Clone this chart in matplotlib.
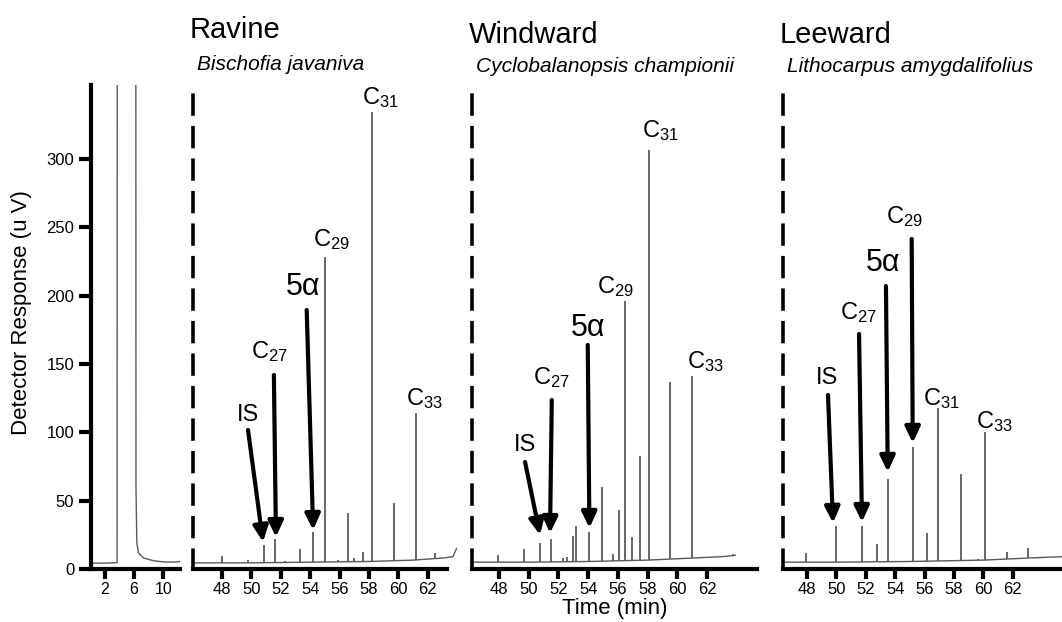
import matplotlib
matplotlib.use("Agg")
import matplotlib.pyplot as plt
import numpy as np

plt.rcParams['font.family'] = ['Liberation Sans', 'DejaVu Sans']
plt.rcParams['mathtext.fontset'] = 'custom'
plt.rcParams['mathtext.rm'] = 'Liberation Sans'
plt.rcParams['mathtext.it'] = 'Liberation Sans:italic'

# solvent panel trace (1000 = detector saturated, off scale)
solvent_t = [0.3, 2.0, 3.0, 3.65, 3.72, 6.2, 6.25, 6.37, 6.6, 7.3, 8.7, 10.0, 11.4, 12.3]
solvent_y = [4.3, 4.3, 4.5, 4.6, 1000, 1000, 60, 19, 11.7, 8, 6, 5.2, 5, 5.5]

# Ravine - Bischofia javaniva
rav_base_t = [46.0, 50, 54, 58, 61, 63, 63.7, 63.95]
rav_base_y = [4.5, 4.5, 5, 5.5, 6.5, 8, 9, 15]
rav_t = [47.97, 49.8, 50.83, 51.62, 52.3, 53.32, 54.2, 55.0, 55.9, 56.58, 57.0, 57.6, 58.2, 59.67, 61.16, 62.5]
rav_h = [9.5, 6.5, 17.6, 22, 6, 14.5, 27, 228, 6.5, 41, 8, 12.5, 334, 48, 114, 12]

# Windward - Cyclobalanopsis championii
win_base_t = [46.3, 50, 54, 58, 61, 63, 63.9]
win_base_y = [5, 5, 5.5, 6.5, 8, 9, 10]
win_t = [47.9, 49.7, 50.76, 51.48, 52.3, 52.6, 53.0, 53.18, 54.06, 54.9, 55.7, 56.07,
         56.46, 56.95, 57.5, 58.1, 59.5, 60.97, 62.5, 63.75]
win_h = [10, 14.6, 19, 21.7, 8, 9, 24, 31.5, 27, 60, 11, 43,
         196, 23.6, 83, 306.5, 137, 141, 9, 11]

# Leeward - Lithocarpus amygdalifolius
lee_base_t = [46.5, 50, 55, 60, 63, 65.3]
lee_base_y = [5, 5, 5.5, 6.5, 8, 9]
lee_t = [47.95, 49.95, 51.72, 52.78, 53.53, 55.23, 56.14, 56.93, 58.5, 59.6, 60.1, 61.58, 63.04]
lee_h = [12, 31.5, 31.5, 18, 65.6, 89.5, 26.6, 117.5, 69.5, 7, 100.4, 12.7, 15]

sites = ['Ravine', 'Windward', 'Leeward']
species = ['Bischofia javaniva', 'Cyclobalanopsis championii', 'Lithocarpus amygdalifolius']
yticks = [0, 50, 100, 150, 200, 250, 300]
solvent_xticks = [2, 6, 10]
chrom_xticks = [48, 50, 52, 54, 56, 58, 60, 62]

# annotations: label, label position (t, v), arrow start, arrow tip (None = no arrow)
rav_notes = [
    ('IS', (49.77, 112.7), (49.77, 101.7), (50.79, 19.8)),
    ('C$_{27}$', (51.26, 158.7), (51.53, 141.9), (51.67, 23.4)),
    ('5α', (53.5, 206.3), (53.76, 189.5), (54.2, 28.5)),
    ('C$_{29}$', (55.46, 240.7), None, None),
    ('C$_{31}$', (58.74, 344.5), None, None),
    ('C$_{33}$', (61.8, 125), None, None),
]
win_notes = [
    ('IS', (49.75, 90.7), (49.75, 78.3), (50.76, 24.9)),
    ('C$_{27}$', (51.55, 139.7), (51.55, 123.6), (51.43, 26.3)),
    ('5α', (53.99, 176.3), (53.97, 163.9), (54.08, 30)),
    ('C$_{29}$', (55.81, 206.3), None, None),
    ('C$_{31}$', (58.83, 321), None, None),
    ('C$_{33}$', (61.86, 151.4), None, None),
]
lee_notes = [
    ('IS', (49.36, 139.7), (49.43, 127.3), (49.77, 33.7)),
    ('C$_{27}$', (51.47, 187.3), (51.54, 171.9), (51.74, 34.4)),
    ('5α', (53.17, 223.8), (53.37, 207), (53.49, 71)),
    ('C$_{29}$', (54.66, 257.5), (55.12, 241.4), (55.19, 92.2)),
    ('C$_{31}$', (57.16, 125), None, None),
    ('C$_{33}$', (60.78, 107.5), None, None),
]

W, H = 1062, 622
fig = plt.figure(figsize=(W / 100, H / 100), dpi=100)

def px_axes(x0, x1, y0=85, y1=569):
    return fig.add_axes([x0 / W, 1 - y1 / H, (x1 - x0) / W, (y1 - y0) / H])

ymax = 354
trace_col = '#5a5a5a'

# solvent panel
ax0 = px_axes(91, 180)
ax0.plot(solvent_t, solvent_y, color=trace_col, lw=1.0)
ax0.set_xlim(0.07, 12.3)
ax0.set_ylim(0, ymax)
ax0.spines[['top', 'right']].set_visible(False)
for s in ['left', 'bottom']:
    ax0.spines[s].set_linewidth(3)
ax0.set_yticks(yticks)
ax0.set_xticks(solvent_xticks)
ax0.tick_params(axis='y', length=9, width=3, labelsize=12, pad=3)
ax0.tick_params(axis='x', length=7, width=3, labelsize=11.5, pad=2)
ax0.set_ylabel('Detector Response (u V)', fontsize=16)
ax0.yaxis.set_label_coords(-0.66, 0.53)

panels = [
    (193, 457, (46.03, 63.98), (46.03, 63.3), rav_base_t, rav_base_y, rav_t, rav_h, rav_notes),
    (472, 757, (46.18, 65.36), (46.18, 65.36), win_base_t, win_base_y, win_t, win_h, win_notes),
    (783, 1062, (46.37, 65.34), (46.37, 65.34), lee_base_t, lee_base_y, lee_t, lee_h, lee_notes),
]

title_y = [38, 43, 43]
species_y = [70, 72, 72]

for i, (x0, x1, xl, xb, bt, by, pt, ph, notes) in enumerate(panels):
    ax = px_axes(x0, x1)
    ax.plot(bt, by, color=trace_col, lw=1.0)
    foot = np.interp(pt, bt, by)
    ax.vlines(pt, foot, ph, color=trace_col, lw=1.3)
    ax.set_xlim(*xl)
    ax.set_ylim(0, ymax)
    ax.spines[['top', 'right']].set_visible(False)
    ax.spines['bottom'].set_linewidth(3)
    ax.spines['bottom'].set_bounds(*xb)
    ax.spines['left'].set_linewidth(2.6)
    ax.spines['left'].set_linestyle((0, (5.2, 3.8)))
    ax.set_yticks([])
    ax.set_xticks(chrom_xticks)
    ax.tick_params(axis='x', length=7, width=3, labelsize=12, pad=2)
    for lab, pos, start, tip in notes:
        fs = 22 if lab == '5α' else 17
        ax.text(pos[0], pos[1], lab, fontsize=fs, ha='center', va='center')
        if tip is not None:
            ax.annotate('', xy=tip, xytext=start,
                        arrowprops=dict(arrowstyle='-|>,head_width=0.45,head_length=0.95',
                                        color='black', lw=3, mutation_scale=10,
                                        shrinkA=0, shrinkB=0))
    fig.text((x0 - 3) / W, 1 - title_y[i] / H, sites[i], fontsize=21, va='baseline')
    fig.text((x0 + 4) / W, 1 - species_y[i] / H, species[i], fontsize=15,
             style='italic', va='baseline')
    if i == 1:
        ax.set_xlabel('Time (min)', fontsize=16, labelpad=1)

fig.savefig('out.png', dpi=100)
